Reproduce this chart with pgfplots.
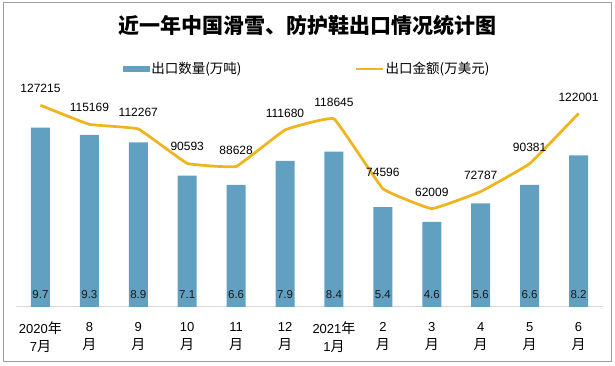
\documentclass[border=0pt]{standalone}
\usepackage{pgfplots}
\pgfplotsset{compat=1.18}
\usepackage{pgfplotstable}
\usepackage{fontspec}
\setmainfont{Liberation Sans}
\newfontfamily\cjk{Noto Sans CJK SC}
\definecolor{barblue}{RGB}{98,160,194}
\definecolor{lineor}{RGB}{240,180,30}
\newcommand\Y{{\cjk\fontsize{14}{18}\selectfont 年}}
\newcommand\M{{\cjk\fontsize{14}{18}\selectfont 月}}

\pgfplotstableread{
x q v
0 9.7 127215
1 9.3 115169
2 8.9 112267
3 7.1 90593
4 6.6 88628
5 7.9 111680
6 8.4 118645
7 5.4 74596
8 4.6 62009
9 5.6 72787
10 6.6 90381
11 8.2 122001
}\datatable

\begin{document}
\begin{tikzpicture}[x=1pt,y=1pt]
\path (0,0) rectangle (615,366);
\draw[gray!75, line width=1pt] (3.5,4.5) rectangle (611,363);
\node[font=\cjk\bfseries\fontsize{21}{24}\selectfont] at (307.5,340.2) {近一年中国滑雪、防护鞋出口情况统计图};

\begin{axis}[at={(16pt,59pt)}, anchor=south west, scale only axis,
  width=587pt, height=222pt,
  xmin=-0.5, xmax=11.5, ymin=0, ymax=12,
  axis y line=none, axis x line*=bottom,
  x axis line style={draw=black!15, line width=1pt, -},
  xtick={0,...,11}, major tick length=0pt,
  xticklabels={{2020\Y\\7\M},{8\\\M},{9\\\M},{10\\\M},{11\\\M},{12\\\M},{2021\Y\\1\M},{2\\\M},{3\\\M},{4\\\M},{5\\\M},{6\\\M}},
  xticklabel style={align=center, anchor=center, yshift=-29.7pt, font=\fontsize{13}{18}\selectfont, text=black},
  clip=false]
\addplot[ybar, bar width=19pt, fill=barblue, draw=none] table[x=x,y=q]{\datatable};
\addplot[draw=none, mark=none, nodes near coords, point meta=explicit symbolic,
  every node near coord/.append style={anchor=center, yshift=12pt, font=\fontsize{11.5}{13}\selectfont, text=black!90}]
  table[x=x, y expr=0, meta=q]{\datatable};
\end{axis}

\begin{axis}[at={(16pt,59pt)}, anchor=south west, scale only axis,
  width=587pt, height=222pt,
  xmin=-0.5, xmax=11.5, ymin=0, ymax=140000,
  hide axis, clip=false,
  legend columns=2,
  legend style={at={(axis description cs:0.1818,1.072)}, anchor=west, draw=none, fill=none, inner sep=0pt,
    font=\cjk\fontsize{13.5}{15}\selectfont, nodes={inner sep=1.5pt},
    /tikz/every even column/.append style={column sep=112pt}}]
\addlegendimage{legend image code/.code={\fill[barblue] (0pt,-2.5pt) rectangle (26.5pt,2.5pt);}}
\addlegendentry{出口数量(万吨)}
\addplot[lineor, line width=2.75pt, smooth, tension=0.15, mark=none,
  legend image code/.code={\draw[lineor, line width=2.75pt] (0pt,0pt) -- (26.5pt,0pt);},
  nodes near coords, point meta=explicit symbolic,
  every node near coord/.append style={anchor=center, yshift=16.5pt, font=\fontsize{12}{14}\selectfont, text=black}]
  table[x=x,y=v,meta=v]{\datatable};
\addlegendentry{出口金额(万美元)}
\end{axis}
\end{tikzpicture}
\end{document}
